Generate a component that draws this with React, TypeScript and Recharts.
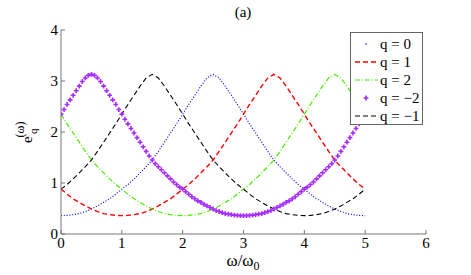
import React from "react";
import { LineChart, Line, XAxis, YAxis, Legend } from "recharts";

// omega / omega_0 grids (x positions of the samples)
const W_COARSE = Array.from({ length: 51 }, (_, i) => i / 10);
const W_FINE = Array.from({ length: 101 }, (_, i) => i / 20);

// one value per grid point
const Q0 = [
  0.36, 0.365, 0.38, 0.4, 0.44, 0.49, 0.55, 0.62, 0.69, 0.78, 0.88, 0.97, 1.08, 1.2, 1.32, 1.45, 1.62, 1.8, 1.98,
  2.16, 2.35, 2.54, 2.72, 2.9, 3.06, 3.13, 3.06, 2.9, 2.72, 2.54, 2.35, 2.16, 1.98, 1.8, 1.62, 1.45, 1.32, 1.2,
  1.08, 0.97, 0.88, 0.78, 0.69, 0.62, 0.55, 0.49, 0.44, 0.4, 0.38, 0.365, 0.36,
];
const Q1 = [
  0.88, 0.78, 0.69, 0.62, 0.55, 0.49, 0.44, 0.4, 0.38, 0.365, 0.36, 0.365, 0.38, 0.4, 0.44, 0.49, 0.55, 0.62, 0.69,
  0.78, 0.88, 0.97, 1.08, 1.2, 1.32, 1.45, 1.62, 1.8, 1.98, 2.16, 2.35, 2.54, 2.72, 2.9, 3.06, 3.13, 3.06, 2.9,
  2.72, 2.54, 2.35, 2.16, 1.98, 1.8, 1.62, 1.45, 1.32, 1.2, 1.08, 0.97, 0.88,
];
const Q2 = [
  2.35, 2.16, 1.98, 1.8, 1.62, 1.45, 1.32, 1.2, 1.08, 0.97, 0.88, 0.78, 0.69, 0.62, 0.55, 0.49, 0.44, 0.4, 0.38,
  0.365, 0.36, 0.365, 0.38, 0.4, 0.44, 0.49, 0.55, 0.62, 0.69, 0.78, 0.88, 0.97, 1.08, 1.2, 1.32, 1.45, 1.62, 1.8,
  1.98, 2.16, 2.35, 2.54, 2.72, 2.9, 3.06, 3.13, 3.06, 2.9, 2.72, 2.54, 2.35,
];
const QM1 = [
  0.88, 0.97, 1.08, 1.2, 1.32, 1.45, 1.62, 1.8, 1.98, 2.16, 2.35, 2.54, 2.72, 2.9, 3.06, 3.13, 3.06, 2.9, 2.72,
  2.54, 2.35, 2.16, 1.98, 1.8, 1.62, 1.45, 1.32, 1.2, 1.08, 0.97, 0.88, 0.78, 0.69, 0.62, 0.55, 0.49, 0.44, 0.4,
  0.38, 0.365, 0.36, 0.365, 0.38, 0.4, 0.44, 0.49, 0.55, 0.62, 0.69, 0.78, 0.88,
];
// q = -2 is sampled twice as densely (markers)
const QM2 = [
  2.35, 2.44, 2.54, 2.63, 2.72, 2.81, 2.9, 2.99, 3.06, 3.11, 3.13, 3.11, 3.06, 2.99, 2.9, 2.81, 2.72, 2.63, 2.54,
  2.44, 2.35, 2.25, 2.16, 2.07, 1.98, 1.89, 1.8, 1.71, 1.62, 1.53, 1.45, 1.38, 1.32, 1.26, 1.2, 1.14, 1.08, 1.02,
  0.97, 0.92, 0.88, 0.83, 0.78, 0.73, 0.69, 0.65, 0.62, 0.58, 0.55, 0.52, 0.49, 0.46, 0.44, 0.42, 0.4, 0.39, 0.38,
  0.37, 0.365, 0.36, 0.36, 0.36, 0.365, 0.37, 0.38, 0.39, 0.4, 0.42, 0.44, 0.46, 0.49, 0.52, 0.55, 0.58, 0.62,
  0.65, 0.69, 0.73, 0.78, 0.83, 0.88, 0.92, 0.97, 1.02, 1.08, 1.14, 1.2, 1.26, 1.32, 1.38, 1.45, 1.53, 1.62, 1.71,
  1.8, 1.89, 1.98, 2.07, 2.16, 2.25, 2.35,
];

const X_TICKS = [0, 1, 2, 3, 4, 5, 6];
const Y_TICKS = [0, 1, 2, 3, 4];
const LABELS = ["q = 0", "q = 1", "q = 2", "q = \u22122", "q = \u22121"];

const toRows = (ws: number[], vs: number[]) => ws.map((w, i) => ({ w, v: vs[i] }));

const BLUE = "#0000ff";
const RED = "#ff0000";
const GREEN = "#44ee00";
const MAGENTA = "#a52cff";
const BLACK = "#000000";
const FONT = '"Liberation Serif", "Times New Roman", Times, "DejaVu Serif", serif';

const Plus = (props: any) => {
  const { cx, cy, index } = props;
  if (cx == null || cy == null) return <g key={index} />;
  return (
    <path
      key={index}
      d={`M${cx - 2.4},${cy}h4.8M${cx},${cy - 2.4}v4.8`}
      stroke={MAGENTA}
      strokeWidth={1.6}
      fill="none"
    />
  );
};

const LegendBox = () => {
  const sym = (i: number) => {
    switch (i) {
      case 0:
        return <circle cx={12} cy={6} r={0.8} fill={BLUE} />;
      case 1:
        return <line x1={1} x2={24} y1={6} y2={6} stroke={RED} strokeWidth={1.4} strokeDasharray="5 3" />;
      case 2:
        return <line x1={1} x2={24} y1={6} y2={6} stroke={GREEN} strokeWidth={1.2} strokeDasharray="5 2 1 2" />;
      case 3:
        return <path d="M9.6,6h4.8M12,3.6v4.8" stroke={MAGENTA} strokeWidth={1.6} />;
      default:
        return <line x1={1} x2={24} y1={6} y2={6} stroke={BLACK} strokeWidth={1} strokeDasharray="5 3" />;
    }
  };
  return (
    <div
      style={{
        width: 71,
        height: 89,
        background: "#fff",
        border: "1px solid #666",
        fontFamily: FONT,
        fontSize: 15,
        color: "#000",
        paddingTop: 2,
        boxSizing: "content-box",
      }}
    >
      {LABELS.map((lab, i) => (
        <div key={lab} style={{ display: "flex", alignItems: "center", height: 18, lineHeight: "18px" }}>
          <svg width={26} height={12} style={{ marginLeft: 3 }}>
            {sym(i)}
          </svg>
          <span>{lab}</span>
        </div>
      ))}
    </div>
  );
};

export default function App() {
  return (
    <div style={{ position: "absolute", left: 0, top: 0, width: 471, height: 275, background: "#fff" }}>
      <LineChart width={471} height={275} margin={{ top: 30, right: 45, bottom: 16, left: 41 }}>
        <XAxis
          dataKey="w"
          type="number"
          domain={[0, 6]}
          ticks={X_TICKS}
          allowDataOverflow
          height={25}
          stroke="#777"
          tickSize={-4}
          tickMargin={7}
          tick={{ fill: "#000", fontFamily: FONT, fontSize: 15 }}
        />
        <YAxis
          type="number"
          domain={[0, 4]}
          ticks={Y_TICKS}
          width={20}
          stroke="#777"
          tickSize={-4}
          tickMargin={7}
          tick={{ fill: "#000", fontFamily: FONT, fontSize: 15 }}
        />
        <Line
          data={toRows(W_COARSE, Q0)}
          dataKey="v"
          name={LABELS[0]}
          stroke={BLUE}
          strokeWidth={1.2}
          strokeDasharray="1 1.8"
          dot={false}
          isAnimationActive={false}
        />
        <Line
          data={toRows(W_COARSE, Q1)}
          dataKey="v"
          name={LABELS[1]}
          stroke={RED}
          strokeWidth={1.4}
          strokeDasharray="5 3"
          dot={false}
          isAnimationActive={false}
        />
        <Line
          data={toRows(W_COARSE, Q2)}
          dataKey="v"
          name={LABELS[2]}
          stroke={GREEN}
          strokeWidth={1.2}
          strokeDasharray="5 2 1 2"
          dot={false}
          isAnimationActive={false}
        />
        <Line
          data={toRows(W_FINE, QM2)}
          dataKey="v"
          name={LABELS[3]}
          stroke="none"
          dot={Plus}
          isAnimationActive={false}
        />
        <Line
          data={toRows(W_COARSE, QM1)}
          dataKey="v"
          name={LABELS[4]}
          stroke={BLACK}
          strokeWidth={1.1}
          strokeDasharray="5 3"
          dot={false}
          isAnimationActive={false}
        />
        <Legend
          layout="vertical"
          align="center"
          verticalAlign="middle"
          content={() => <LegendBox />}
          wrapperStyle={{ position: "absolute", left: 350, top: 32, width: 73, height: 91 }}
        />
      </LineChart>
      <svg
        width={471}
        height={275}
        style={{ position: "absolute", left: 0, top: 0, pointerEvents: "none", fontFamily: FONT }}
      >
        <text x={243} y={17} textAnchor="middle" fontSize={15}>
          (a)
        </text>
        <text x={243} y={266} textAnchor="middle" fontSize={17}>
          ω/ω<tspan fontSize={12} dy={4}>0</tspan>
        </text>
        <text transform="translate(32,143) rotate(-90)" fontSize={15}>
          e
        </text>
        <text transform="translate(37,134) rotate(-90)" fontSize={11}>
          q
        </text>
        <text transform="translate(24,137.5) rotate(-90)" fontSize={12}>
          (ω)
        </text>
      </svg>
    </div>
  );
}
